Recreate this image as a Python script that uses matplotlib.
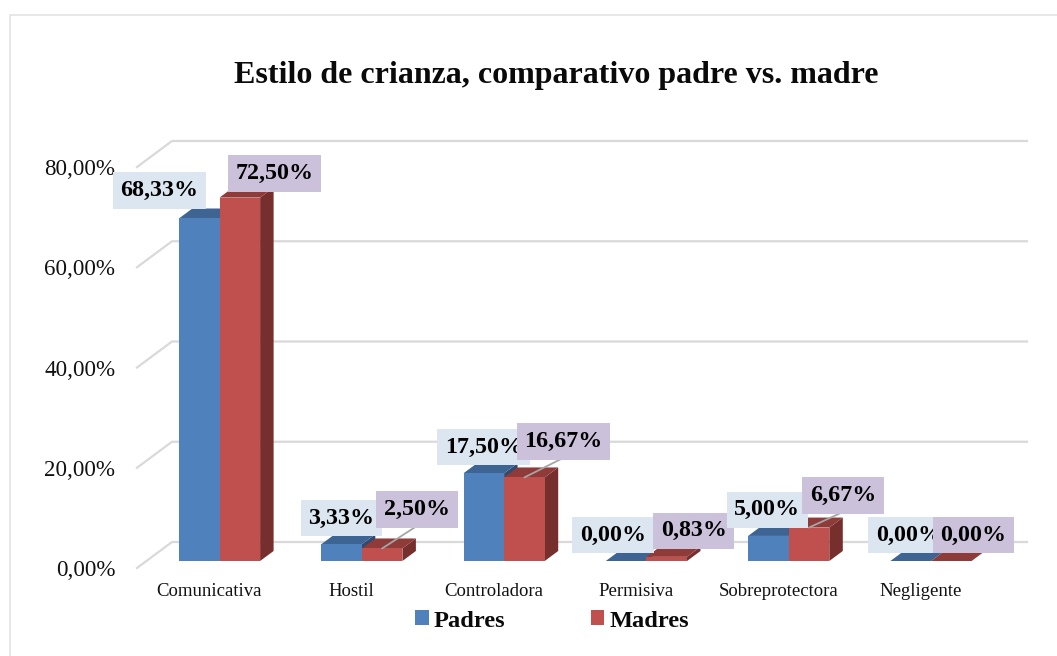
import matplotlib
matplotlib.use("Agg")
import matplotlib.pyplot as plt
from matplotlib.lines import Line2D
from matplotlib.patches import Polygon, Patch

plt.rcParams['font.family'] = ['Liberation Serif', 'DejaVu Serif']

categories = ["Comunicativa", "Hostil", "Controladora", "Permisiva", "Sobreprotectora", "Negligente"]
padres = [68.33, 3.33, 17.50, 0.00, 5.00, 0.00]
madres = [72.50, 2.50, 16.67, 0.83, 6.67, 0.00]
y_ticks = [0, 20, 40, 60, 80]

# offset of each label box from the top of its bar, in pixels
padres_offsets = [(-40, 28), (0, 26), (0, 26), (-13, 26), (-1, 26), (-2, 26)]
madres_offsets = [(35, 24), (35, 39), (39, 36), (27, 26), (34, 32), (22, 26)]
madres_leader = [False, True, True, False, True, False]

W, H = 1057, 656
PX_X = 142.3      # pixels per category
PX_Y = 5.0125     # pixels per percent
LEFT, RIGHT, BOTTOM, TOP = 137, 1027, 568, 130

fig = plt.figure(figsize=(W / 100, H / 100), dpi=100)
ax = fig.add_axes([LEFT / W, 1 - BOTTOM / H, (RIGHT - LEFT) / W, (BOTTOM - TOP) / H])
ax.set_xlim((LEFT - 219.5) / PX_X, (RIGHT - 219.5) / PX_X)
ax.set_ylim(0, (BOTTOM - TOP) / PX_Y)
ax.patch.set_visible(False)
for s in ax.spines.values():
    s.set_visible(False)

GRID = '#D9D9D9'
wall_dx, wall_dy = 35 / PX_X, 26 / PX_Y
x_end = ax.get_xlim()[1]
x_start = ax.get_xlim()[0]
for t in y_ticks:
    ax.plot([x_start, x_start + wall_dx, x_end], [t, t + wall_dy, t + wall_dy],
            color=GRID, lw=1.6, zorder=1, clip_on=False)

ax.set_yticks(y_ticks)
ax.set_yticklabels([f"{t:.2f}%".replace('.', ',') for t in y_ticks], fontsize=16.6, color='#111111')
ax.set_xticks([i - 10.5 / PX_X for i in range(len(categories))])
ax.set_xticklabels(categories, fontsize=13.5, color='#111111')
ax.tick_params(axis='y', length=0, pad=15.5)
ax.tick_params(axis='x', length=0, pad=11)

bar_w = 40.6 / PX_X
dep_x, dep_y = 13.5 / PX_X, 10 / PX_Y
base = 7 / PX_Y


def draw_bars(values, shift, front, top, side, z):
    for i, v in enumerate(values):
        x0 = i + shift - bar_w / 2
        x1 = i + shift + bar_w / 2
        y1 = base + v
        ax.add_patch(Polygon([(x1, base), (x1 + dep_x, base + dep_y), (x1 + dep_x, y1 + dep_y), (x1, y1)],
                             facecolor=side, edgecolor='none', zorder=z))
        ax.add_patch(Polygon([(x0, y1), (x0 + dep_x, y1 + dep_y), (x1 + dep_x, y1 + dep_y), (x1, y1)],
                             facecolor=top, edgecolor='none', zorder=z))
    ax.bar([i + shift for i in range(len(values))], values, width=bar_w, bottom=base,
           color=front, linewidth=0, zorder=z + 0.1)


draw_bars(padres, -bar_w / 2, '#4F81BD', '#3E6493', '#2F4C70', 2)
draw_bars(madres, bar_w / 2, '#C0504D', '#8E3B39', '#772F2D', 2.5)


def add_label(i, shift, v, offset, box, leader=False):
    arrow = None
    if leader:
        # relpos y below 0 so the line ends at the bottom edge of the box, not the text
        arrow = dict(arrowstyle='-', color='#A6A6A6', lw=1.3, relpos=(0.5, -0.28),
                     patchA=None, shrinkA=0, shrinkB=0)
    ax.annotate(f"{v:.2f}%".replace('.', ','), xy=(i + shift, base + v), xycoords='data',
                xytext=offset, textcoords='offset pixels', ha='center', va='center',
                fontsize=17.3, fontweight='bold', color='black', zorder=5,
                bbox=dict(boxstyle='square,pad=0.32', facecolor=box, edgecolor='none'),
                arrowprops=arrow, annotation_clip=False)


for i in range(len(categories)):
    add_label(i, -bar_w / 2, padres[i], padres_offsets[i], '#DCE6F1')
    add_label(i, bar_w / 2, madres[i], madres_offsets[i], '#CCC1DA', madres_leader[i])

fig.text(556 / W, 1 - 75 / H, "Estilo de crianza, comparativo padre vs. madre",
         ha='center', va='center', fontsize=23, fontweight='bold', color='#0A0A0A')

# chart frame, runs off the right and bottom of the picture
fig.add_artist(Line2D([10 / W, 10 / W, 1], [0, 1 - 15 / H, 1 - 15 / H], color='#E3E3E3', lw=1.2))

handles = [Patch(facecolor='#4F81BD', label='Padres'), Patch(facecolor='#C0504D', label='Madres')]
fig.legend(handles=handles, loc='center', bbox_to_anchor=(552 / W, 1 - 621 / H), ncols=2, frameon=False,
           prop={'weight': 'bold', 'size': 17.6}, handlelength=0.55, handleheight=0.55,
           handletextpad=0.2, columnspacing=3.5, labelcolor='#0A0A0A')

fig.savefig('out.png', dpi=100)
